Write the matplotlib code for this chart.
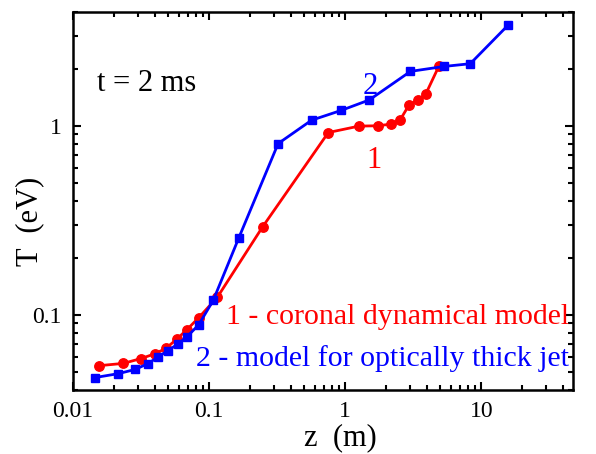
import matplotlib
matplotlib.use("Agg")
import matplotlib.pyplot as plt
from matplotlib.ticker import LogLocator, FixedLocator, FixedFormatter, NullFormatter

plt.rcParams['font.family'] = ['Liberation Serif', 'DejaVu Serif']
plt.rcParams['mathtext.fontset'] = 'stix'

# Series 1 - coronal dynamical model (red circles)
z1 = [0.0156, 0.0234, 0.0314, 0.0398, 0.0482, 0.0577, 0.0687, 0.0837, 0.115, 0.247,
      0.75, 1.26, 1.73, 2.16, 2.53, 2.94, 3.43, 3.91, 4.87]
T1 = [0.0538, 0.0553, 0.0586, 0.0621, 0.0665, 0.0742, 0.0835, 0.0964, 0.124, 0.292,
      0.921, 0.996, 1.0, 1.02, 1.076, 1.29, 1.37, 1.48, 2.07]

# Series 2 - model for optically thick jet (blue squares)
z2 = [0.0144, 0.0215, 0.0287, 0.0353, 0.0421, 0.0495, 0.0587, 0.069, 0.0837, 0.107,
      0.165, 0.321, 0.565, 0.93, 1.50, 3.01, 5.30, 8.27, 15.7]
T2 = [0.0465, 0.0488, 0.0514, 0.0551, 0.0596, 0.0646, 0.0698, 0.0767, 0.0885, 0.119,
      0.255, 0.805, 1.07, 1.205, 1.37, 1.94, 2.06, 2.13, 3.41]

x_ticks = [0.01, 0.1, 1, 10]
x_labels = ['0.01', '0.1', '1', '10']
y_ticks = [0.1, 1]
y_labels = ['0.1', '1']

fig = plt.figure(figsize=(5.96, 4.54), dpi=100)
ax = fig.add_axes([0.1225, 0.141, 0.9614 - 0.1225, 0.9736 - 0.141])

ax.plot(z1, T1, '-o', color='#ff0000', lw=2.0, markersize=6.8, zorder=3)
ax.plot(z2, T2, '-s', color='#0000ff', lw=2.0, markersize=6.3, zorder=4)

ax.set_xscale('log')
ax.set_yscale('log')
ax.set_xlim(0.01, 47)
ax.set_ylim(0.04, 4.0)

ax.xaxis.set_major_locator(FixedLocator(x_ticks))
ax.xaxis.set_major_formatter(FixedFormatter(x_labels))
ax.yaxis.set_major_locator(FixedLocator(y_ticks))
ax.yaxis.set_major_formatter(FixedFormatter(y_labels))
ax.xaxis.set_minor_locator(LogLocator(base=10, subs=range(2, 10), numticks=20))
ax.yaxis.set_minor_locator(LogLocator(base=10, subs=range(2, 10), numticks=20))
ax.xaxis.set_minor_formatter(NullFormatter())
ax.yaxis.set_minor_formatter(NullFormatter())

ax.tick_params(which='both', direction='in', top=True, right=True, width=1.5)
ax.tick_params(which='major', length=6, labelsize=17, pad=8)
ax.tick_params(which='minor', length=3.5)
for s in ax.spines.values():
    s.set_linewidth(1.8)

ax.set_xlabel('z  (m)', fontsize=22)
ax.xaxis.label.set_va('baseline')
ax.xaxis.set_label_coords(0.534, (390 - 445) / 378)
ax.set_ylabel('T  (eV)', fontsize=22)
ax.yaxis.set_label_coords(-0.086, 0.447)
ax.yaxis.label.set_va('center')

ax.text(0.015, 1.53, 't = 2 ms', fontsize=22, color='black', va='baseline', ha='left')
ax.text(1.52, 1.48, '2', fontsize=22, color='#0000ff', va='baseline', ha='center')
ax.text(1.62, 0.598, '1', fontsize=22, color='#ff0000', va='baseline', ha='center')
ax.text(0.992, (390 - 324) / 378, '1 - coronal dynamical model', transform=ax.transAxes,
        fontsize=21.5, color='#ff0000', ha='right', va='baseline')
ax.text(0.992, (390 - 366) / 378, '2 - model for optically thick jet', transform=ax.transAxes,
        fontsize=21.5, color='#0000ff', ha='right', va='baseline')

fig.savefig('out.png', dpi=100)
